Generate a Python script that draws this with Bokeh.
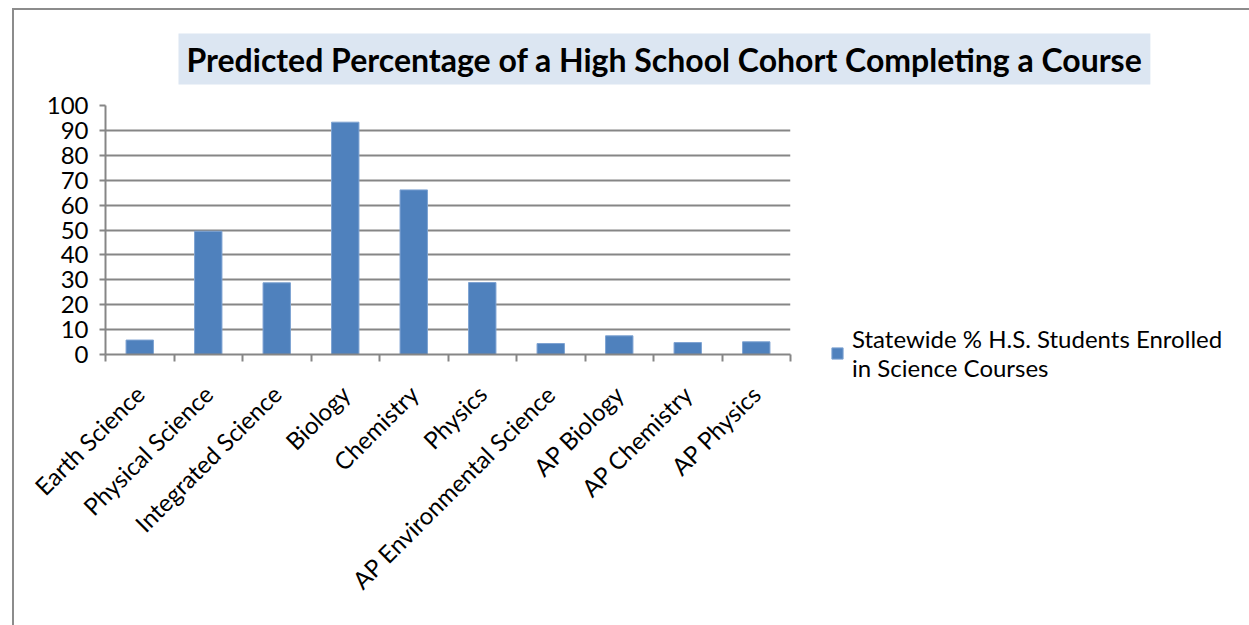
import math
from bokeh.plotting import figure
from bokeh.models import (Range1d, FixedTicker, Legend, LegendItem)
from bokeh.embed import file_html
from bokeh.resources import INLINE

courses = ["Earth Science", "Physical Science", "Integrated Science", "Biology", "Chemistry",
           "Physics", "AP Environmental Science", "AP Biology", "AP Chemistry", "AP Physics"]
enrolled_pct = [5.8, 49.5, 28.8, 93.3, 66.1, 28.9, 4.4, 7.5, 4.8, 5.1]
y_ticks = [0, 10, 20, 30, 40, 50, 60, 70, 80, 90, 100]
title_text = "Predicted Percentage of a High School Cohort Completing a Course"
series_name = "Statewide % H.S. Students Enrolled\nin Science Courses"

FONT = "Lato"
GRID = "#868686"
BAR = "#4F81BD"

n = len(courses)
centers = [i + 0.5 for i in range(n)]

p = figure(frame_width=685, frame_height=249, output_backend="svg", toolbar_location=None,
           x_range=Range1d(0, n), y_range=Range1d(0, 100), title=title_text,
           min_border_left=91, min_border_right=0, min_border_top=0, min_border_bottom=271)
p.margin = (8, 0, 0, 12)
p.styles = {"border-left": "2px solid #8C8C8C", "border-top": "2px solid #8C8C8C"}
p.outline_line_color = None
p.background_fill_color = "white"
p.border_fill_color = "white"

r = p.vbar(x=centers, top=enrolled_pct, width=0.4, fill_color=BAR, line_color="#7EA3D2", line_width=1)

# title
p.title.align = "left"
p.title.offset = 73
p.title.standoff = 42
p.title.text_font = FONT
p.title.text_font_style = "bold"
p.title.text_font_size = "32px"
p.title.text_color = "black"
p.title.background_fill_color = "#DCE6F2"
p.title.padding = dict(x=8, y=6)

# axes
p.xaxis.ticker = FixedTicker(ticks=centers, minor_ticks=list(range(n + 1)))
p.xaxis.major_label_overrides = {c: name for c, name in zip(centers, courses)}
p.xaxis.major_label_orientation = math.pi / 4
p.xaxis.major_tick_line_color = None
p.xaxis.minor_tick_line_color = GRID
p.xaxis.minor_tick_out = 7
p.xaxis.minor_tick_in = 0
p.xaxis.minor_tick_line_width = 2
p.xaxis.axis_line_color = GRID
p.xaxis.axis_line_width = 2
p.xaxis.major_label_text_font = FONT
p.xaxis.major_label_text_font_size = "24px"
p.xaxis.major_label_text_color = "black"
p.xaxis.major_label_standoff = 28

p.yaxis.ticker = FixedTicker(ticks=y_ticks)
p.yaxis.minor_tick_line_color = None
p.yaxis.major_tick_out = 6
p.yaxis.major_tick_in = 0
p.yaxis.major_tick_line_color = GRID
p.yaxis.major_tick_line_width = 2
p.yaxis.axis_line_color = GRID
p.yaxis.axis_line_width = 2
p.yaxis.major_label_text_font = FONT
p.yaxis.major_label_text_font_size = "24px"
p.yaxis.major_label_text_color = "black"
p.yaxis.major_label_standoff = 11

p.xgrid.grid_line_color = None
p.ygrid.grid_line_color = GRID
p.ygrid.grid_line_width = 2

legend = Legend(items=[LegendItem(label=series_name, renderers=[r])],
                location=(40, -28), glyph_width=14, glyph_height=14,
                label_text_font=FONT, label_text_font_size="24px", label_text_color="black",
                border_line_color=None, background_fill_alpha=0, padding=0, margin=0,
                label_standoff=8)
p.add_layout(legend, "right")

open("out.html", "w").write(file_html(p, INLINE))
